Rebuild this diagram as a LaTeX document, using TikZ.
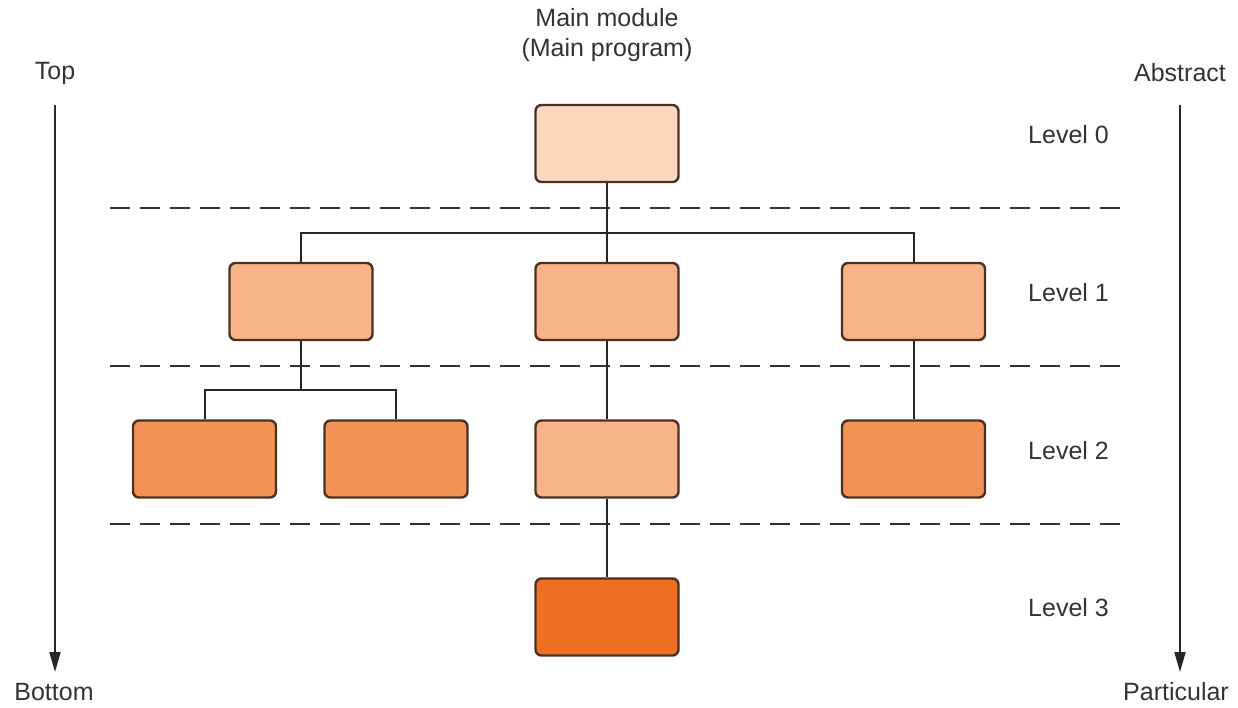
\documentclass[tikz,border=0pt]{standalone}
\usepackage{fontspec}
\setmainfont{Liberation Sans}
\usetikzlibrary{arrows.meta}
\definecolor{edge}{HTML}{4A3222}
\definecolor{txt}{HTML}{333333}
\definecolor{shadeA}{HTML}{FDD6BC}
\definecolor{shadeB}{HTML}{F8B389}
\definecolor{shadeC}{HTML}{F39257}
\definecolor{shadeD}{HTML}{F07022}
\begin{document}
\begin{tikzpicture}[x=1pt,y=-1pt,
  module/.style={draw=edge,line width=2.4pt,rounded corners=6pt,
    minimum width=143pt,minimum height=77pt,inner sep=0pt},
  label/.style={text=txt,font=\fontsize{25}{30}\selectfont,inner sep=0pt},
  link/.style={draw=black!85,line width=2pt},
  sep/.style={draw=black!80,line width=2pt,dash pattern=on 20pt off 10pt},
  axis/.style={draw=black!85,line width=2pt,-{Triangle[length=20pt,width=11pt]}}]
\useasboundingbox (0,0) rectangle (1238,707);

% modules, level by level
\node[module,fill=shadeA] (m0) at (607,143.5) {};
\node[module,fill=shadeB] (a1) at (301,301.5) {};
\node[module,fill=shadeB] (b1) at (607,301.5) {};
\node[module,fill=shadeB] (c1) at (913.5,301.5) {};
\node[module,fill=shadeC] (a2) at (204.5,459) {};
\node[module,fill=shadeC] (b2) at (396,459) {};
\node[module,fill=shadeB] (c2) at (607,459) {};
\node[module,fill=shadeC] (d2) at (913.5,459) {};
\node[module,fill=shadeD] (m3) at (607,617) {};

% level separators
\coordinate (s1l) at (110,208); \coordinate (s1r) at (1125,208);
\coordinate (s2l) at (110,366); \coordinate (s2r) at (1125,366);
\coordinate (s3l) at (110,524); \coordinate (s3r) at (1125,524);
\draw[sep] (s1l) -- (s1r);
\draw[sep] (s2l) -- (s2r);
\draw[sep] (s3l) -- (s3r);

% call structure
\coordinate (j0) at (607,233);
\coordinate (j1) at (301,390);
\draw[link] (m0.south) -- (j0);
\draw[link] (a1.north) |- (j0) -| (c1.north);
\draw[link] (j0) -- (b1.north);
\draw[link] (a1.south) -- (j1);
\draw[link] (a2.north) |- (j1) -| (b2.north);
\draw[link] (b1.south) -- (c2.north);
\draw[link] (c1.south) -- (d2.north);
\draw[link] (c2.south) -- (m3.north);

% titles
\node[label] (t1) at (607,18) {Main module};
\node[label] (t2) at (607,50) {(Main program)};

% level names
\node[label,anchor=west] (l0) at (1028,135) {Level 0};
\node[label,anchor=west] (l1) at (1028,293) {Level 1};
\node[label,anchor=west] (l2) at (1028,451) {Level 2};
\node[label,anchor=west] (l3) at (1028,608) {Level 3};

% side axes
\node[label] (top) at (55,73) {Top};
\node[label] (bot) at (54,692) {Bottom};
\node[label] (abs) at (1180,73) {Abstract};
\node[label] (par) at (1176,692) {Particular};
\coordinate (ta) at (55,105);
\coordinate (tb) at (55,672);
\coordinate (aa) at (1180,105);
\coordinate (ab) at (1180,672);
\draw[axis] (ta) -- (tb);
\draw[axis] (aa) -- (ab);
\end{tikzpicture}
\end{document}
